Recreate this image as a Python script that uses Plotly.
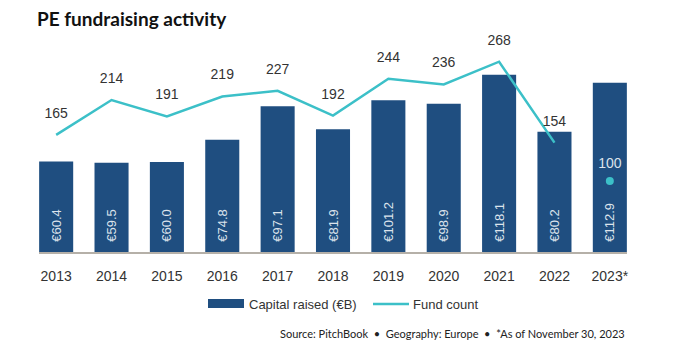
import plotly.graph_objects as go

years = ["2013", "2014", "2015", "2016", "2017", "2018", "2019", "2020", "2021", "2022", "2023*"]
capital = [60.4, 59.5, 60.0, 74.8, 97.1, 81.9, 101.2, 98.9, 118.1, 80.2, 112.9]
fund_count = [165, 214, 191, 219, 227, 192, 244, 236, 268, 154]
fund_count_2023 = [100]

FONT = "Liberation Sans, Arial, sans-serif"
BAR_C = "#1F4E80"
LINE_C = "#3CC0C8"
TXT = "#333333"

fig = go.Figure()
fig.add_trace(go.Bar(
    x=years, y=capital, name="Capital raised (€B)", showlegend=False,
    marker=dict(color=BAR_C, line=dict(width=0)),
    text=["\u00a0\u00a0€" + f"{v:.1f}" for v in capital],
    textposition="inside", insidetextanchor="start", textangle=-90,
    textfont=dict(family=FONT, size=13, color="#DCE3EC"),
    cliponaxis=False,
))
fig.add_trace(go.Scatter(
    x=years[:len(fund_count)], y=fund_count, name="Fund count", yaxis="y2", showlegend=False,
    mode="lines+markers+text", line=dict(color=LINE_C, width=2.5),
    marker=dict(size=20, opacity=0, color=LINE_C),
    text=[str(v) for v in fund_count], textposition="top center",
    textfont=dict(family=FONT, size=14, color=TXT),
    cliponaxis=False,
))
fig.add_trace(go.Scatter(
    x=years[-1:], y=fund_count_2023, yaxis="y2", showlegend=False,
    mode="markers", marker=dict(color=LINE_C, size=8),
    cliponaxis=False,
))
fig.add_trace(go.Scatter(
    x=years[-1:], y=fund_count_2023, yaxis="y2", showlegend=False,
    mode="markers+text", marker=dict(color=LINE_C, size=14, opacity=0),
    text=[str(v) for v in fund_count_2023], textposition="top center",
    textfont=dict(family=FONT, size=14, color="#DCE3EC"),
    cliponaxis=False,
))

fig.update_layout(
    width=676, height=351,
    margin=dict(l=39, r=49, t=45, b=99),
    paper_bgcolor="white", plot_bgcolor="white",
    font=dict(family=FONT, color=TXT),
    bargap=0.385,
    showlegend=False,
    title=dict(text="<b>PE fundraising activity</b>", xref="container", x=37/676, xanchor="left",
               yref="container", y=1 - 19/351, yanchor="middle",
               font=dict(family="Lato, sans-serif", size=19, color="#111111")),
    xaxis=dict(type="category", range=[-0.31, 10.31], showgrid=False, showline=True,
               linecolor="#B5B0A8", linewidth=1.5, ticks="", ticklabelstandoff=10,
               tickfont=dict(family=FONT, size=14, color=TXT)),
    yaxis=dict(range=[0, 138], visible=False),
    yaxis2=dict(range=[0, 291.5], overlaying="y", visible=False),
)

# legend (drawn manually to match the wide swatches)
def px_x(p):
    return (p - 39) / 588

def px_y(p):
    return -(p - 252) / 207

fig.add_shape(type="rect", xref="paper", yref="paper",
              x0=px_x(208), x1=px_x(244), y0=px_y(299), y1=px_y(308),
              fillcolor=BAR_C, line=dict(width=0))
fig.add_shape(type="line", xref="paper", yref="paper",
              x0=px_x(373), x1=px_x(409), y0=px_y(304), y1=px_y(304),
              line=dict(color=LINE_C, width=2.5))
fig.add_annotation(text="Capital raised (€B)", xref="paper", yref="paper",
                   x=px_x(247), y=px_y(304), xanchor="left", yanchor="middle",
                   showarrow=False, font=dict(family=FONT, size=13, color=TXT))
fig.add_annotation(text="Fund count", xref="paper", yref="paper",
                   x=px_x(411), y=px_y(304), xanchor="left", yanchor="middle",
                   showarrow=False, font=dict(family=FONT, size=13, color=TXT))

fig.add_annotation(
    text="Source: PitchBook  •  Geography: Europe  •  *As of November 30, 2023",
    xref="paper", yref="paper", x=1, y=px_y(333), xanchor="right", yanchor="middle",
    showarrow=False, font=dict(family="Lato, sans-serif", size=11, color="#222222"),
)
fig.write_html("out.html")
